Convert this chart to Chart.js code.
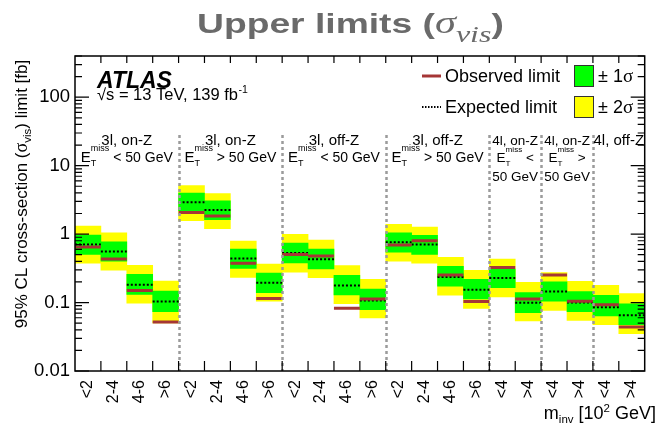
<!DOCTYPE html>
<html>
<head>
<meta charset="utf-8">
<script src="https://cdn.jsdelivr.net/npm/chart.js@4/dist/chart.umd.min.js"></script>
<style>
  html, body { margin: 0; padding: 0; background: #fff; width: 656px; height: 433px; overflow: hidden; }
  canvas { display: block; }
</style>
</head>
<body>
<canvas id="c" width="660" height="433" style="width:660px;height:433px"></canvas>
<script>
// Bins in m_inv [10^2 GeV], grouped by signal region
const binLabels = ['<2', '2-4', '4-6', '>6', '<2', '2-4', '4-6', '>6',
                   '<2', '2-4', '4-6', '>6', '<2', '2-4', '4-6', '>6',
                   '<4', '>4', '<4', '>4', '<4', '>4'];

// 95% CL upper limits on the visible cross-section [fb]
const observed   = [0.65, 0.433, 0.150, 0.052, 2.06, 1.84, 0.375, 0.115, 0.503, 0.480, 0.0824, 0.113,
                    0.696, 0.797, 0.252, 0.1035, 0.324, 0.113, 0.252, 0.1045, 0.0925, 0.0439];
const expected   = [0.706, 0.557, 0.182, 0.1035, 2.93, 2.25, 0.439, 0.195, 0.531, 0.429, 0.178, 0.107,
                    0.763, 0.706, 0.236, 0.154, 0.228, 0.099, 0.145, 0.100, 0.0853, 0.065];
const sigma1Up   = [0.967, 0.770, 0.258, 0.147, 3.97, 3.06, 0.602, 0.270, 0.737, 0.602, 0.249, 0.157,
                    1.045, 0.957, 0.338, 0.218, 0.309, 0.140, 0.2015, 0.145, 0.127, 0.0957];
const sigma1Down = [0.503, 0.401, 0.132, 0.0738, 2.20, 1.62, 0.316, 0.140, 0.378, 0.309, 0.129, 0.0789,
                    0.544, 0.503, 0.174, 0.113, 0.1645, 0.0713, 0.1045, 0.0738, 0.0637, 0.0475];
const sigma2Up   = [1.31, 1.045, 0.350, 0.206, 5.13, 3.91, 0.789, 0.366, 0.990, 0.816, 0.347, 0.218,
                    1.39, 1.27, 0.459, 0.296, 0.433, 0.197, 0.273, 0.204, 0.178, 0.1356];
const sigma2Down = [0.375, 0.296, 0.0977, 0.0503, 1.57, 1.20, 0.233, 0.1045, 0.279, 0.231, 0.0967, 0.0596,
                    0.401, 0.375, 0.128, 0.0824, 0.121, 0.0538, 0.0770, 0.0549, 0.0475, 0.035];

// Signal regions: bin edges and their label lines ($MET = E_T^miss)
const regionEdges = [0, 4, 8, 12, 16, 18, 20, 22];
const regionLines = [
  ['3l, on-Z', '$MET < 50 GeV'],
  ['3l, on-Z', '$MET > 50 GeV'],
  ['3l, off-Z', '$MET < 50 GeV'],
  ['3l, off-Z', '$MET > 50 GeV'],
  ['4l, on-Z', '$MET <', '50 GeV'],
  ['4l, on-Z', '$MET >', '50 GeV'],
  ['4l, off-Z']
];

const yTickValues = [0.01, 0.1, 1, 10, 100];
const yTickLabels = ['0.01', '0.1', '1', '10', '100'];

const SANS = '"Liberation Sans", Arial, Helvetica, sans-serif';
const SERIF = '"Liberation Serif", "Times New Roman", serif';
const OBS_COLOR = '#a53636';

// Horizontal segment per bin, broken between bins
function segments(values) {
  const pts = [];
  values.forEach((v, i) => {
    pts.push({ x: i, y: v }, { x: i + 1, y: v }, { x: i + 1, y: null });
  });
  return pts;
}
function band(lo, hi) {
  return lo.map((l, i) => ({ x: i + 0.5, y: [l, hi[i]] }));
}

// Draws a list of text runs; each run: {t, f (font), dy}
function drawRuns(ctx, x, y, runs) {
  for (const r of runs) {
    ctx.font = r.f;
    ctx.fillText(r.t, x, y + (r.dy || 0));
    x += ctx.measureText(r.t).width;
  }
  return x;
}
function runsWidth(ctx, runs) {
  let w = 0;
  for (const r of runs) { ctx.font = r.f; w += ctx.measureText(r.t).width; }
  return w;
}

// Region label line; "$MET" becomes E with stacked "miss" / "T"
function labelRuns(line, size, restSize) {
  if (!line.startsWith('$MET')) return { met: false, rest: line };
  return { met: true, rest: line.slice(4) };
}
function drawRegionLine(ctx, cx, y, line, size, restSize) {
  const big = size + 'px ' + SANS, small = (size * 0.6) + 'px ' + SANS, rest = restSize + 'px ' + SANS;
  const parsed = labelRuns(line);
  if (!parsed.met) {
    ctx.font = big;
    const w = ctx.measureText(line).width;
    ctx.fillText(line, cx - w / 2, y);
    return;
  }
  ctx.font = big; const eW = ctx.measureText('E').width;
  ctx.font = small; const sW = Math.max(ctx.measureText('miss').width, ctx.measureText('T').width);
  ctx.font = rest; const rW = ctx.measureText(parsed.rest).width;
  let x = cx - (eW + sW + rW) / 2;
  ctx.font = big; ctx.fillText('E', x, y);
  ctx.font = small;
  ctx.fillText('miss', x + eW, y - size * 0.73);
  ctx.fillText('T', x + eW, y + 4);
  ctx.font = rest; ctx.fillText(parsed.rest, x + eW + sW, y);
}

const decor = {
  id: 'decor',
  afterDatasetsDraw(chart) {
    const { ctx, chartArea: a, scales: { x } } = chart;
    // region separators
    ctx.save();
    ctx.strokeStyle = '#9b9b9b';
    ctx.lineWidth = 2.5;
    ctx.setLineDash([3, 3]);
    regionEdges.slice(1, -1).forEach(b => {
      const px = Math.round(x.getPixelForValue(b)) + 0.5;
      ctx.beginPath(); ctx.moveTo(px, 135); ctx.lineTo(px, a.bottom); ctx.stroke();
    });
    ctx.restore();
  },
  afterDraw(chart) {
    const { ctx, chartArea: a, scales: { x, y } } = chart;
    ctx.save();
    ctx.fillStyle = '#000';
    ctx.strokeStyle = '#000';
    ctx.textBaseline = 'alphabetic';
    ctx.textAlign = 'left';

    // frame and tick marks
    ctx.lineWidth = 1.2;
    ctx.beginPath();
    for (let i = 1; i < binLabels.length; i++) {
      const px = x.getPixelForValue(i);
      ctx.moveTo(px, a.bottom); ctx.lineTo(px, a.bottom - 10);
      ctx.moveTo(px, a.top); ctx.lineTo(px, a.top + 7);
    }
    for (let d = -2; d <= 2; d++) {
      for (let m = 1; m <= 9; m++) {
        const v = m * Math.pow(10, d);
        if (v > 400) break;
        const py = y.getPixelForValue(v);
        const len = m === 1 ? 14 : 7;
        ctx.moveTo(a.left, py); ctx.lineTo(a.left + len, py);
        ctx.moveTo(a.right, py); ctx.lineTo(a.right - len, py);
      }
    }
    ctx.stroke();
    ctx.lineWidth = 1.5;
    ctx.strokeRect(a.left, a.top, a.right - a.left, a.bottom - a.top);

    // region labels
    const baselines = [145, 162, 181];
    for (let r = 0; r < regionLines.length; r++) {
      const cx = x.getPixelForValue((regionEdges[r] + regionEdges[r + 1]) / 2);
      const narrow = regionLines[r].length === 3;
      const size = narrow ? 13.5 : 15;
      const restSize = narrow ? 13.5 : 14;
      regionLines[r].forEach((ln, k) => drawRegionLine(ctx, cx, baselines[k], ln, size, restSize));
    }

    // ATLAS label
    ctx.font = 'italic bold 23px ' + SANS;
    ctx.fillText('ATLAS', 97, 88);
    const ex = drawRuns(ctx, 97, 100, [{ t: '\u221As = 13 TeV, 139 fb', f: '16.5px ' + SANS }]);
    ctx.font = '10.5px ' + SANS;
    ctx.fillText('-1', ex + 0.5, 93);

    // legend
    ctx.lineWidth = 3;
    ctx.strokeStyle = OBS_COLOR;
    ctx.beginPath(); ctx.moveTo(422, 76); ctx.lineTo(441, 76); ctx.stroke();
    ctx.lineWidth = 2;
    ctx.strokeStyle = '#000';
    ctx.setLineDash([1.5, 1.5]);
    ctx.beginPath(); ctx.moveTo(422, 107); ctx.lineTo(441, 107); ctx.stroke();
    ctx.setLineDash([]);
    ctx.font = '18px ' + SANS;
    ctx.fillText('Observed limit', 445, 82);
    ctx.fillText('Expected limit', 445, 113);
    ctx.lineWidth = 1;
    ctx.strokeStyle = '#333';
    ctx.fillStyle = '#00ff00'; ctx.fillRect(574.5, 65.5, 19, 21); ctx.strokeRect(574.5, 65.5, 19, 21);
    ctx.fillStyle = '#ffff00'; ctx.fillRect(574.5, 96.5, 19, 21); ctx.strokeRect(574.5, 96.5, 19, 21);
    ctx.fillStyle = '#000';
    drawRuns(ctx, 598, 82, [{ t: '\u00B1 1', f: '18px ' + SANS }, { t: '\u03C3', f: '19px ' + SERIF }]);
    drawRuns(ctx, 598, 113, [{ t: '\u00B1 2', f: '18px ' + SANS }, { t: '\u03C3', f: '19px ' + SERIF }]);

    // y-axis title
    const yRuns = [
      { t: '95% CL cross-section (', f: '17px ' + SANS },
      { t: '\u03C3', f: '18px ' + SERIF },
      { t: 'vis', f: '11.5px ' + SANS, dy: 4 },
      { t: ') limit [fb]', f: '17px ' + SANS }
    ];
    ctx.save();
    ctx.translate(27, 194);
    ctx.rotate(-Math.PI / 2);
    drawRuns(ctx, -runsWidth(ctx, yRuns) / 2, 0, yRuns);
    ctx.restore();

    // x-axis title
    const xRuns = [
      { t: 'm', f: '18px ' + SANS },
      { t: 'inv', f: '11.5px ' + SANS, dy: 4 },
      { t: ' [10', f: '18px ' + SANS },
      { t: '2', f: '11.5px ' + SANS, dy: -7 },
      { t: ' GeV]', f: '18px ' + SANS }
    ];
    drawRuns(ctx, 656 - runsWidth(ctx, xRuns), 419, xRuns);

    // title
    const tRuns = [
      { t: 'Upper limits (', f: 'bold 28px ' + SANS },
      { t: '\u03C3', f: 'italic 32px ' + SERIF },
      { t: 'vis', f: 'italic 24px ' + SERIF, dy: 8.5 },
      { t: ')', f: 'bold 28px ' + SANS }
    ];
    ctx.fillStyle = '#6a6a6a';
    ctx.save();
    ctx.translate(197, 33);
    ctx.scale(1.33, 1);
    drawRuns(ctx, 0, 0, tRuns);
    ctx.restore();

    ctx.restore();
  }
};

new Chart(document.getElementById('c'), {
  type: 'bar',
  data: {
    datasets: [
      { label: '\u00B1 2\u03C3', data: band(sigma2Down, sigma2Up), backgroundColor: '#ffff00',
        borderWidth: 0, grouped: false, barPercentage: 1, categoryPercentage: 1, order: 3 },
      { label: '\u00B1 1\u03C3', data: band(sigma1Down, sigma1Up), backgroundColor: '#00ff00',
        borderWidth: 0, grouped: false, barPercentage: 1, categoryPercentage: 1, order: 2 },
      { type: 'line', label: 'Expected limit', data: segments(expected), borderColor: '#000',
        borderWidth: 2, borderDash: [2, 2], pointRadius: 0, spanGaps: false, order: 1 },
      { type: 'line', label: 'Observed limit', data: segments(observed), borderColor: OBS_COLOR,
        borderWidth: 3, pointRadius: 0, spanGaps: false, order: 0 }
    ]
  },
  options: {
    responsive: false,
    animation: false,
    layout: { padding: { top: 56, right: 2, left: 0, bottom: 0 } },
    plugins: { legend: { display: false }, tooltip: { enabled: false }, title: { display: false } },
    scales: {
      x: {
        type: 'linear', min: 0, max: 22, offset: false,
        grid: { display: false, drawTicks: false }, border: { display: false },
        afterBuildTicks: s => { s.ticks = binLabels.map((_, i) => ({ value: i + 0.5 })); },
        afterFit: s => { s.height = 62; },
        ticks: {
          autoSkip: false, minRotation: 90, maxRotation: 90, padding: 9, color: '#000',
          font: { family: SANS, size: 16 },
          callback: (v, i) => binLabels[i]
        }
      },
      y: {
        type: 'logarithmic', min: 0.01, max: 400,
        grid: { display: false, drawTicks: false }, border: { display: false },
        afterBuildTicks: s => { s.ticks = yTickValues.map(v => ({ value: v })); },
        afterFit: s => { s.width = 75; },
        ticks: {
          padding: 5, color: '#000', font: { family: SANS, size: 18.5 },
          callback: (v, i) => yTickLabels[i]
        }
      }
    }
  },
  plugins: [decor]
});
</script>
</body>
</html>
